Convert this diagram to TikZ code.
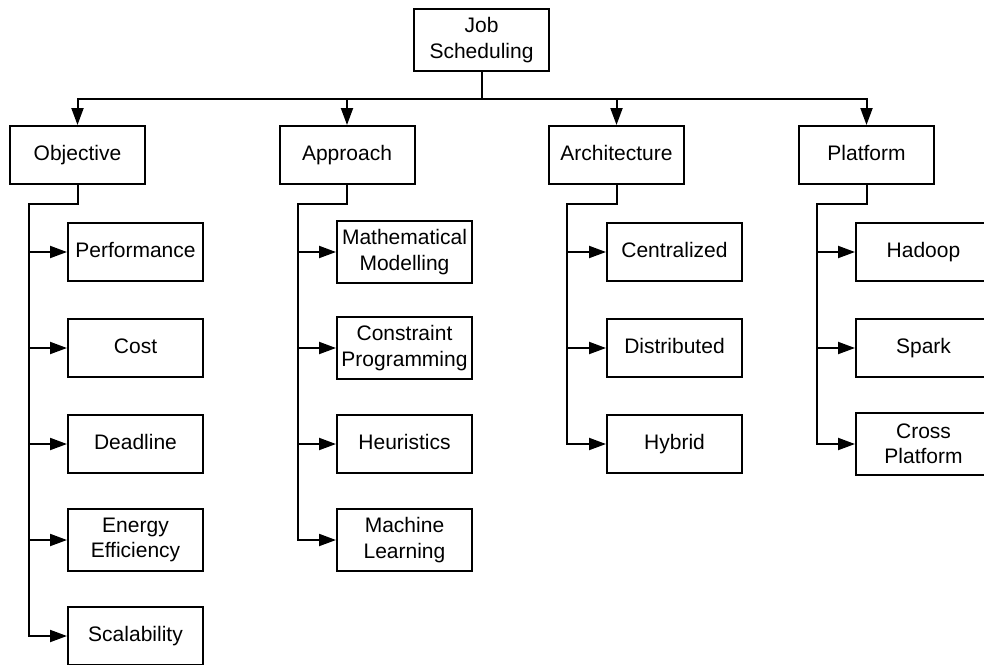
\documentclass[tikz,border=0pt]{standalone}
\usepackage{fontspec}
\setmainfont{Liberation Sans}
\usetikzlibrary{arrows.meta}
\begin{document}
\begin{tikzpicture}[x=1pt,y=-1pt,
  basebox/.style={draw=black,line width=2pt,minimum width=135pt,
    inner sep=0pt,align=center,font=\fontsize{21}{25.5}\selectfont},
  box/.style={basebox,minimum height=58pt,text height=15pt,text depth=5pt},
  tallbox/.style={basebox,minimum height=62pt},
  link/.style={draw=black,line width=2pt},
  arr/.style={link,-{Triangle[length=17pt,width=12pt]}}]
\useasboundingbox (0,0) rectangle (984,664);
\clip (0,0) rectangle (984,664);
\fill[white] (0,0) rectangle (984,664);

% root and first level
\node[tallbox] (root) at (481.5,40) {Job\\Scheduling};
\node[box] (obj)  at (77.5,155)  {Objective};
\node[box] (appr) at (347,155)   {Approach};
\node[box] (arch) at (616.5,155) {Architecture};
\node[box] (plat) at (866.5,155) {Platform};

% second level: objectives
\node[box]     (perf)  at (135.5,252) {Performance};
\node[box]     (cost)  at (135.5,348) {Cost};
\node[box]     (dead)  at (135.5,444) {Deadline};
\node[tallbox] (energy) at (135.5,540) {Energy\\Efficiency};
\node[box]     (scal)  at (135.5,636) {Scalability};

% approaches
\node[tallbox] (math)  at (404.5,252) {Mathematical\\Modelling};
\node[tallbox] (cons)  at (404.5,348) {Constraint\\Programming};
\node[box]     (heur)  at (404.5,444) {Heuristics};
\node[tallbox] (ml)    at (404.5,540) {Machine\\Learning};

% architectures
\node[box] (cent) at (674.5,252) {Centralized};
\node[box] (dist) at (674.5,348) {Distributed};
\node[box] (hyb)  at (674.5,444) {Hybrid};

% platforms
\node[box]     (hadoop) at (923.5,252) {Hadoop};
\node[box]     (spark)  at (923.5,348) {Spark};
\node[tallbox] (cross)  at (923.5,444) {Cross\\Platform};

% bus below the root
\coordinate (bus) at (481.5,99);
\draw[arr] (root.south) -- (bus) -| (obj.north);
\draw[arr] (bus) -| (appr.north);
\draw[arr] (bus) -| (arch.north);
\draw[arr] (bus) -| (plat.north);

% elbows into the vertical trunks
\coordinate (objk)  at (29,204);
\coordinate (apprk) at (298,204);
\coordinate (archk) at (567,204);
\coordinate (platk) at (817,204);

\foreach \c in {perf,cost,dead,energy,scal}
  \draw[arr] (obj.south) |- (objk) |- (\c.west);
\foreach \c in {math,cons,heur,ml}
  \draw[arr] (appr.south) |- (apprk) |- (\c.west);
\foreach \c in {cent,dist,hyb}
  \draw[arr] (arch.south) |- (archk) |- (\c.west);
\foreach \c in {hadoop,spark,cross}
  \draw[arr] (plat.south) |- (platk) |- (\c.west);
\end{tikzpicture}
\end{document}
